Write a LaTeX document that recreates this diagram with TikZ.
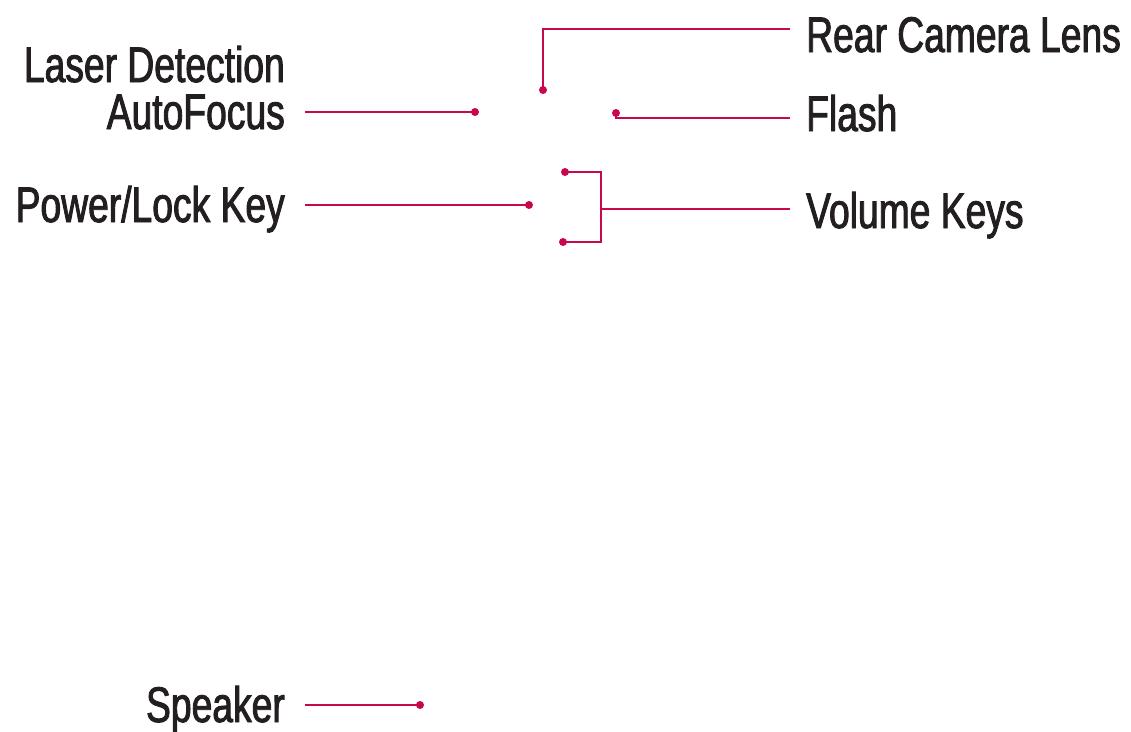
\documentclass[tikz,border=0pt]{standalone}
\usepackage{fontspec}
\setmainfont{Liberation Sans}[FakeStretch=0.745,FakeBold=1.8]
\definecolor{lgred}{HTML}{C8084E}
\definecolor{txt}{HTML}{231F20}
\begin{document}
\begin{tikzpicture}[x=1pt,y=-1pt,
  lbl/.style={inner sep=0pt,text=txt,font=\fontsize{50}{47}\selectfont},
  lead/.style={draw=lgred,line width=1.8pt},
  dot/.style={circle,fill=lgred,inner sep=0pt,minimum size=8pt}]
\useasboundingbox (0,0) rectangle (1131,731);
% labels
\node[lbl,anchor=base east,align=right] (laser) at (285,129) {Laser Detection\\AutoFocus};
\node[lbl,anchor=base east] (power) at (285,222) {Power/Lock Key};
\node[lbl,anchor=base east] (speaker) at (285,722) {Speaker};
\node[lbl,anchor=base west] (rear) at (806,52) {Rear Camera Lens};
\node[lbl,anchor=base west] (flash) at (806,131) {Flash};
\node[lbl,anchor=base west] (volume) at (806,228) {Volume Keys};
% dots
\node[dot] (dlaser) at (475,112) {};
\node[dot] (dpower) at (529,205) {};
\node[dot] (dspeaker) at (420,705) {};
\node[dot] (drear) at (543,90) {};
\node[dot] (dflash) at (616,113) {};
\node[dot] (dvup) at (565,172) {};
\node[dot] (dvdn) at (563,242) {};
% end coordinates
\coordinate (elaser) at (305,112);
\coordinate (epower) at (305,205);
\coordinate (espeaker) at (305,705);
\coordinate (erear) at (790,29);
\coordinate (eflash) at (790,118);
\coordinate (evol) at (790,209);
\coordinate (bx) at (601,209);
% connectors
\draw[lead] (elaser) -- (dlaser.center);
\draw[lead] (epower) -- (dpower.center);
\draw[lead] (espeaker) -- (dspeaker.center);
\draw[lead] (drear.center) |- (erear);
\draw[lead] (dflash.center) |- (eflash);
\draw[lead] (dvup.center) -| (bx) |- (dvdn.center);
\draw[lead] (bx) -- (evol);
\end{tikzpicture}
\end{document}
